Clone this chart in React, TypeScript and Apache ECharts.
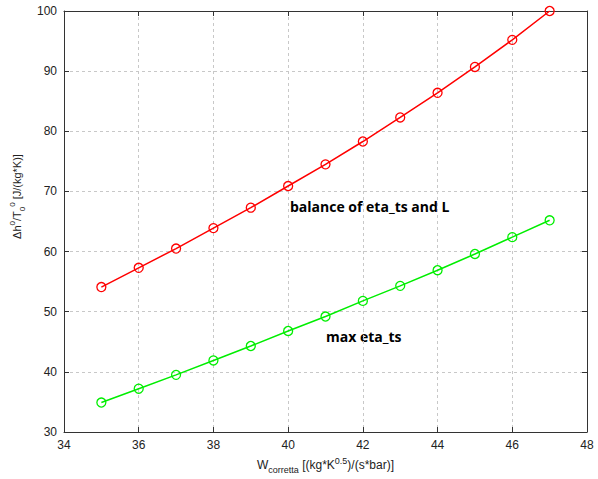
import React, { useEffect, useRef } from "react";
import * as echarts from "echarts";

const xValues = [35, 36, 37, 38, 39, 40, 41, 42, 43, 44, 45, 46, 47];
const balanceValues = [54.1, 57.3, 60.5, 63.9, 67.3, 70.9, 74.5, 78.3, 82.3, 86.4, 90.7, 95.2, 100];
const maxEtaValues = [34.9, 37.2, 39.5, 41.9, 44.3, 46.8, 49.2, 51.8, 54.3, 56.9, 59.6, 62.4, 65.2];
const seriesNames = ["balance of eta_ts and L", "max eta_ts"];

const FONT = "Liberation Sans, Arial, sans-serif";

export default function App() {
  const ref = useRef<HTMLDivElement>(null);
  useEffect(() => {
    if (!ref.current) return;
    const chart = echarts.init(ref.current, null, { renderer: "svg" });
    const gridLine = { show: true, lineStyle: { color: "#c8c8c8", type: [3, 3] as any, width: 1 } };
    const axisLine = { show: true, onZero: false, lineStyle: { color: "#333", width: 1 } };
    const tick = { show: true, inside: true, length: 5, lineStyle: { color: "#333" } };
    chart.setOption({
      animation: false,
      backgroundColor: "#fff",
      grid: { left: 54, top: 11, width: 533, height: 425, containLabel: false },
      xAxis: [
        {
          type: "value", min: 34, max: 48, interval: 2,
          axisLine, axisTick: tick, splitLine: gridLine,
          axisLabel: { color: "#222", fontFamily: FONT, fontSize: 12, margin: 7 },
          name: "{a|W}{sub|corretta}{a| [(kg*K}{sup|0.5}{a|)/(s*bar)]}",
          nameLocation: "middle", nameGap: 24,
          nameTextStyle: {
            color: "#222", fontFamily: FONT,
            rich: {
              a: { fontSize: 12, fontFamily: FONT, color: "#222", lineHeight: 18 },
              sub: { fontSize: 9, fontFamily: FONT, color: "#222", verticalAlign: "bottom", lineHeight: 18, padding: [6, 0, 0, 0] },
              sup: { fontSize: 9, fontFamily: FONT, color: "#222", verticalAlign: "top", lineHeight: 18 },
            },
          },
        },
        {
          type: "value", min: 34, max: 48, interval: 2, position: "top",
          axisLine, axisTick: tick, splitLine: { show: false }, axisLabel: { show: false },
        },
      ],
      yAxis: [
        {
          type: "value", min: 30, max: 100, interval: 10,
          axisLine, axisTick: tick, splitLine: gridLine,
          axisLabel: { color: "#222", fontFamily: FONT, fontSize: 12, margin: 7 },
          name: "{a|Δh}{sup|0}{a|/T}{sub|0}{sup|0}{a| [J/(kg*K)]}",
          nameLocation: "middle", nameGap: 38,
          nameTextStyle: {
            color: "#222", fontFamily: FONT, padding: [0, 0, 0, 50],
            rich: {
              a: { fontSize: 11, fontFamily: FONT, color: "#222", lineHeight: 18 },
              sub: { fontSize: 8, fontFamily: FONT, color: "#222", verticalAlign: "bottom", lineHeight: 18 },
              sup: { fontSize: 8, fontFamily: FONT, color: "#222", verticalAlign: "top", lineHeight: 18 },
            },
          },
        },
        {
          type: "value", min: 30, max: 100, interval: 10, position: "right",
          axisLine, axisTick: tick, splitLine: { show: false }, axisLabel: { show: false },
        },
      ],
      series: [
        {
          name: seriesNames[0], type: "line",
          data: xValues.map((x, i) => [x, balanceValues[i]]),
          symbol: "circle", symbolSize: 9, showSymbol: true,
          lineStyle: { color: "#ff0000", width: 1.5 },
          itemStyle: { color: "rgba(0,0,0,0)", borderColor: "#ff0000", borderWidth: 1.3 },
        },
        {
          name: seriesNames[1], type: "line",
          data: xValues.map((x, i) => [x, maxEtaValues[i]]),
          symbol: "circle", symbolSize: 9, showSymbol: true,
          lineStyle: { color: "#00ee00", width: 1.5 },
          itemStyle: { color: "rgba(0,0,0,0)", borderColor: "#00ee00", borderWidth: 1.3 },
        },
      ],
      graphic: [
        {
          type: "text", left: 290, top: 199,
          style: { text: seriesNames[0], fill: "#000", font: "bold 14px 'Open Sans', sans-serif" },
        },
        {
          type: "text", left: 326, top: 329,
          style: { text: seriesNames[1], fill: "#000", font: "bold 14px 'Open Sans', sans-serif" },
        },
      ],
    });
    return () => chart.dispose();
  }, []);
  return (
    <div
      ref={ref}
      style={{ position: "fixed", left: 0, top: 0, width: 598, height: 479, background: "#fff" }}
    />
  );
}
